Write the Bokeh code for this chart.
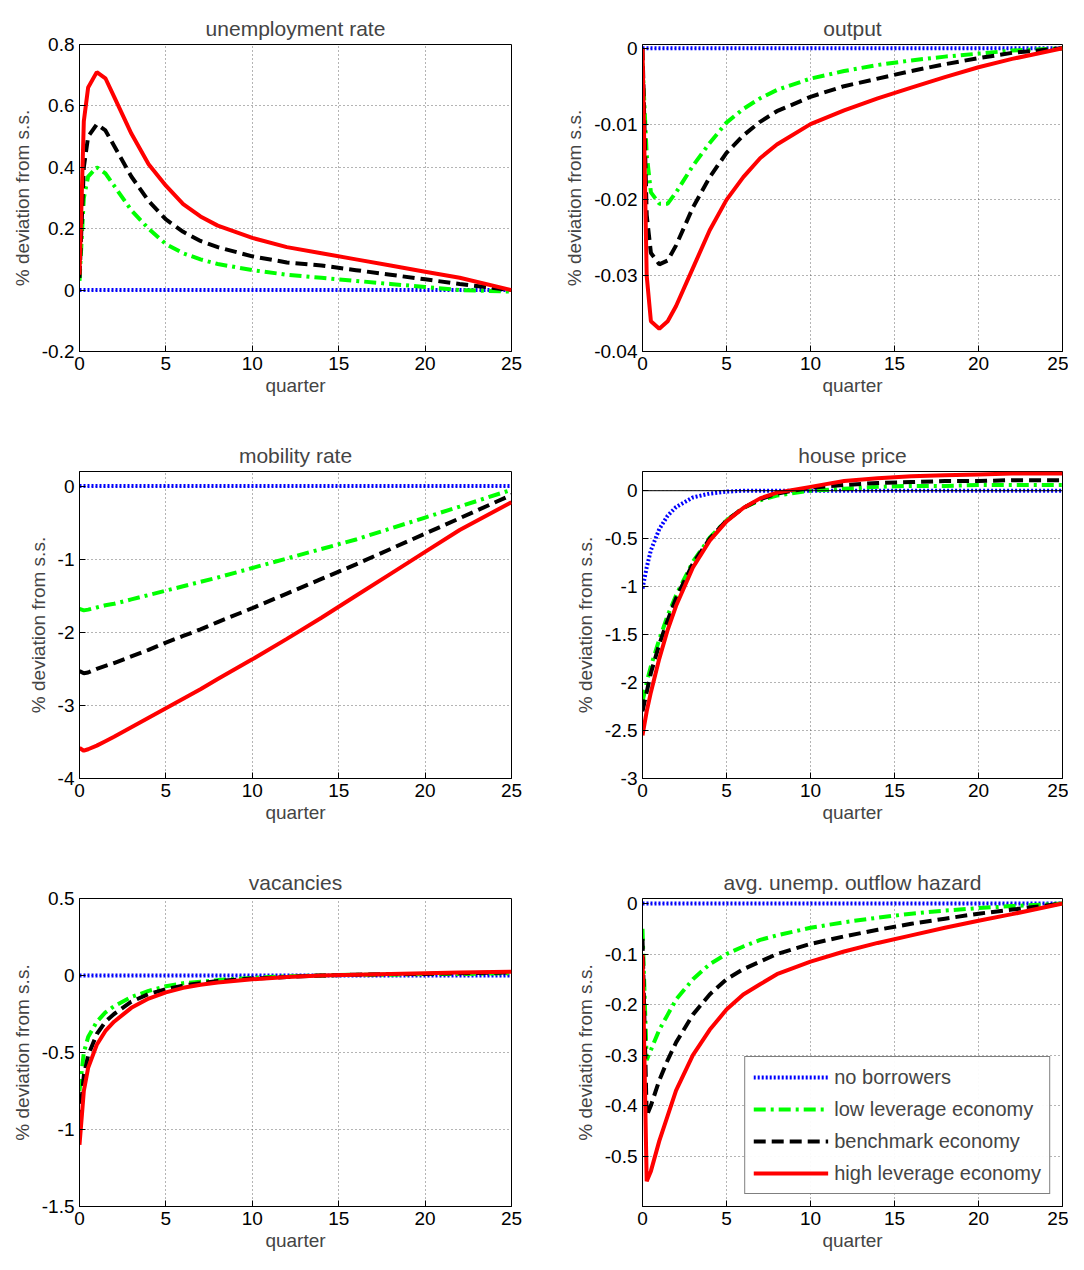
from bokeh.plotting import figure
from bokeh.layouts import column, row
from bokeh.models import Range1d, FixedTicker, Legend, LegendItem, Span
from bokeh.embed import file_html
from bokeh.resources import INLINE

quarter = [0, 0.25, 0.5, 1, 1.5, 2, 3, 4, 5, 6, 7, 8, 10, 12, 14, 16, 18, 20, 22, 25]
zero = [0] * len(quarter)

unemp_high = [0.05, 0.55, 0.66, 0.71, 0.69, 0.63, 0.51, 0.41, 0.34, 0.28, 0.24, 0.21, 0.17, 0.14, 0.12, 0.10, 0.08, 0.06, 0.04, 0.0]
unemp_bench = [0.04, 0.40, 0.50, 0.54, 0.52, 0.47, 0.37, 0.29, 0.23, 0.19, 0.16, 0.14, 0.11, 0.09, 0.08, 0.065, 0.05, 0.035, 0.02, 0.0]
unemp_low = [0.03, 0.30, 0.37, 0.40, 0.38, 0.34, 0.26, 0.20, 0.15, 0.12, 0.10, 0.085, 0.065, 0.05, 0.04, 0.03, 0.02, 0.01, 0.0, -0.005]

out_high = [0, -0.030, -0.036, -0.037, -0.036, -0.034, -0.029, -0.024, -0.020, -0.017, -0.0145, -0.0127, -0.0100, -0.0082, -0.0066, -0.0052, -0.0038, -0.0025, -0.0014, 0]
out_bench = [0, -0.022, -0.027, -0.0285, -0.028, -0.026, -0.021, -0.017, -0.0138, -0.0115, -0.0097, -0.0083, -0.0064, -0.0050, -0.0040, -0.0030, -0.0021, -0.0013, -0.0006, 0]
out_low = [-0.002, -0.014, -0.019, -0.0205, -0.0205, -0.019, -0.0155, -0.0125, -0.0098, -0.0080, -0.0066, -0.0055, -0.0040, -0.0030, -0.0022, -0.0016, -0.0011, -0.0007, -0.0003, 0]

mob_high = [-3.58, -3.62, -3.60, -3.55, -3.49, -3.43, -3.30, -3.17, -3.04, -2.91, -2.78, -2.64, -2.37, -2.09, -1.80, -1.50, -1.20, -0.90, -0.60, -0.22]
mob_bench = [-2.53, -2.56, -2.55, -2.50, -2.46, -2.42, -2.33, -2.24, -2.14, -2.05, -1.96, -1.86, -1.67, -1.47, -1.27, -1.07, -0.86, -0.65, -0.44, -0.12]
mob_low = [-1.68, -1.70, -1.69, -1.66, -1.63, -1.61, -1.55, -1.49, -1.43, -1.37, -1.31, -1.25, -1.12, -0.99, -0.86, -0.73, -0.58, -0.43, -0.28, -0.05]

hp_none = [-1.02, -0.80, -0.62, -0.40, -0.26, -0.17, -0.07, -0.03, -0.01, 0, 0, 0, 0, 0, 0, 0, 0, 0, 0, 0]
hp_high = [-2.55, -2.30, -2.10, -1.75, -1.45, -1.20, -0.80, -0.52, -0.32, -0.18, -0.08, -0.02, 0.04, 0.10, 0.13, 0.15, 0.16, 0.17, 0.18, 0.18]
hp_bench = [-2.30, -2.10, -1.90, -1.60, -1.35, -1.12, -0.76, -0.50, -0.31, -0.18, -0.09, -0.03, 0.03, 0.06, 0.08, 0.09, 0.10, 0.10, 0.11, 0.11]
hp_low = [-2.20, -2.00, -1.83, -1.55, -1.30, -1.09, -0.74, -0.49, -0.31, -0.18, -0.10, -0.05, 0.0, 0.02, 0.04, 0.05, 0.05, 0.06, 0.06, 0.06]

vac_high = [-1.10, -0.75, -0.60, -0.45, -0.36, -0.30, -0.21, -0.15, -0.11, -0.08, -0.06, -0.045, -0.025, -0.01, 0, 0.005, 0.01, 0.015, 0.02, 0.025]
vac_bench = [-0.95, -0.65, -0.52, -0.38, -0.30, -0.25, -0.17, -0.12, -0.09, -0.065, -0.05, -0.035, -0.02, -0.01, 0, 0.005, 0.01, 0.01, 0.015, 0.02]
vac_low = [-0.75, -0.50, -0.40, -0.30, -0.24, -0.20, -0.14, -0.10, -0.07, -0.05, -0.04, -0.03, -0.015, -0.005, 0, 0.005, 0.005, 0.01, 0.01, 0.015]

haz_high = [-0.10, -0.55, -0.53, -0.47, -0.42, -0.37, -0.30, -0.25, -0.21, -0.18, -0.16, -0.14, -0.115, -0.095, -0.078, -0.063, -0.048, -0.034, -0.021, 0]
haz_bench = [-0.07, -0.42, -0.40, -0.35, -0.31, -0.275, -0.22, -0.18, -0.15, -0.13, -0.115, -0.10, -0.08, -0.065, -0.052, -0.04, -0.03, -0.02, -0.012, 0]
haz_low = [-0.05, -0.31, -0.29, -0.25, -0.22, -0.19, -0.15, -0.12, -0.10, -0.085, -0.072, -0.063, -0.048, -0.037, -0.028, -0.02, -0.014, -0.009, -0.005, 0]

labels = ["no borrowers", "low leverage economy", "benchmark economy", "high leverage economy"]
FONT = "Liberation Sans"


def panel(title, ylo, yhi, yticks, series, left, h, bottom, zero_line=False):
    border_l, border_r = (79, 23) if left else (108, 6)
    p = figure(width=534, height=h, output_backend="svg", toolbar_location=None,
               x_range=Range1d(0, 25), y_range=Range1d(ylo, yhi),
               min_border_left=border_l, min_border_right=border_r,
               min_border_top=44, min_border_bottom=bottom)
    p.title.text = title
    p.title.align = "center"
    p.title.text_font = FONT
    p.title.text_font_size = "21px"
    p.title.text_font_style = "normal"
    p.outline_line_color = "black"
    p.xaxis.ticker = FixedTicker(ticks=[0, 5, 10, 15, 20, 25])
    p.yaxis.ticker = FixedTicker(ticks=yticks)
    p.yaxis.major_label_overrides = {t: ("%g" % t) for t in yticks}
    p.xaxis.axis_label = "quarter"
    p.yaxis.axis_label = "% deviation from s.s."
    for ax in (p.xaxis, p.yaxis):
        ax.axis_label_text_font = FONT
        ax.axis_label_text_font_style = "normal"
        ax.axis_label_text_font_size = "19px"
        ax.major_label_text_font = FONT
        ax.major_label_text_font_size = "19px"
        ax.major_label_text_color = "black"
        ax.major_tick_in = 6
        ax.major_tick_out = 0
        ax.minor_tick_line_color = None
        ax.axis_line_color = "black"
        ax.major_tick_line_color = "black"
    p.xaxis.axis_label_standoff = 2
    p.yaxis.axis_label_standoff = 6
    p.grid.grid_line_color = "#444444"
    p.grid.grid_line_dash = "1 3"
    p.grid.grid_line_alpha = 0.8
    if zero_line:
        p.add_layout(Span(location=0, dimension="width", line_color="black", line_width=1))
    none_y, low_y, bench_y, high_y = series
    r1 = p.line(quarter, none_y, line_color="#0000ff", line_width=4, line_dash="2 2")
    r2 = p.line(quarter, low_y, line_color="#00ff00", line_width=4, line_dash="12 5 3 5")
    r3 = p.line(quarter, bench_y, line_color="black", line_width=4, line_dash="12 6")
    r4 = p.line(quarter, high_y, line_color="#ff0000", line_width=4)
    return p, [r1, r2, r3, r4]


p1, _ = panel("unemployment rate", -0.2, 0.8, [-0.2, 0, 0.2, 0.4, 0.6, 0.8],
              (zero, unemp_low, unemp_bench, unemp_high), True, 427, 76)
p2, _ = panel("output", -0.04, 0.0005, [-0.04, -0.03, -0.02, -0.01, 0],
              (zero, out_low, out_bench, out_high), False, 427, 76)
p3, _ = panel("mobility rate", -4, 0.2, [-4, -3, -2, -1, 0],
              (zero, mob_low, mob_bench, mob_high), True, 427, 76)
p4, _ = panel("house price", -3, 0.2, [-3, -2.5, -2, -1.5, -1, -0.5, 0],
              (hp_none, hp_low, hp_bench, hp_high), False, 427, 76, zero_line=True)
p5, _ = panel("vacancies", -1.5, 0.5, [-1.5, -1, -0.5, 0, 0.5],
              (zero, vac_low, vac_bench, vac_high), True, 400, 48)
p6, rs = panel("avg. unemp. outflow hazard", -0.6, 0.01, [-0.5, -0.4, -0.3, -0.2, -0.1, 0],
               (zero, haz_low, haz_bench, haz_high), False, 400, 48)

legend = Legend(items=[LegendItem(label=l, renderers=[r]) for l, r in zip(labels, rs)],
                location="bottom_right")
legend.label_text_font = FONT
legend.label_text_font_size = "20px"
legend.border_line_color = "black"
legend.border_line_width = 1
legend.glyph_width = 75
legend.glyph_height = 24
legend.label_height = 24
legend.label_standoff = 6
legend.spacing = 8
legend.padding = 8
legend.margin = 12
p6.add_layout(legend)

layout = column(row(p1, p2), row(p3, p4), row(p5, p6))
open("out.html", "w").write(file_html(layout, INLINE))
